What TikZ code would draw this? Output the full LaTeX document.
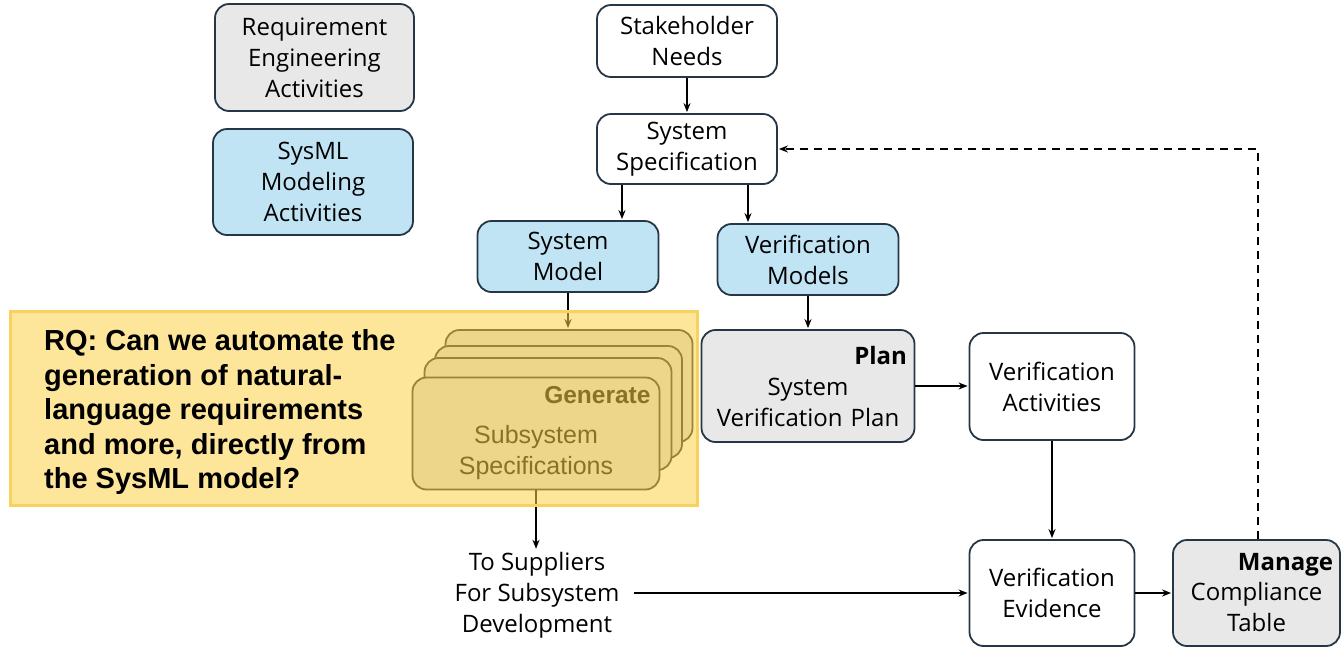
\documentclass[tikz,border=0pt]{standalone}
\usepackage{fontspec}
\setmainfont{Open Sans}
\newfontfamily\arialfont{Liberation Sans}
\usepackage{tikz}
\usetikzlibrary{positioning, calc}
\usetikzlibrary{arrows.meta}
\definecolor{boxline}{HTML}{253746}
\definecolor{grayfill}{HTML}{E8E8E8}
\definecolor{bluefill}{HTML}{C1E4F5}
\definecolor{stackgray}{HTML}{DCDCDC}
\definecolor{rqyellow}{HTML}{FBD147}
\definecolor{rqborder}{HTML}{F9D15E}

\begin{document}
\begin{tikzpicture}[x=1pt,y=-1pt,shorten >=1pt,>={Stealth[length=9pt,width=7pt]}]
	\useasboundingbox (0,0) rectangle (1343,649);
	\def \toprow{41}
	\def \specrow{149}
	\def \planrow{386}
	\def \evidrow{593}
	\tikzstyle{w-node}=[rectangle,rounded corners=14pt,draw=boxline,line width=1.8pt,fill=white,align=center,inner sep=0pt,font=\fontsize{24}{31}\selectfont]
	\tikzstyle{g-node}=[w-node,fill=grayfill]
	\tikzstyle{b-node}=[w-node,fill=bluefill]
	\tikzstyle{s-node}=[w-node,fill=stackgray,draw=black!85,minimum width=247pt,minimum height=112pt,text width=229pt,font=\arialfont\fontsize{25}{31}\selectfont]
	\tikzstyle{flow}=[->,draw=black,line width=2pt]
	
	% legend
	\node[g-node, minimum width=199pt, minimum height=107pt] 	(req) 	at (314.5,57.5)	{Requirement\\Engineering\\Activities};
	\node[b-node, minimum width=200pt, minimum height=106pt] 	(sysml) at (313,182)	{SysML\\Modeling\\Activities};
	
	% specification chain
	\node[w-node, minimum width=180pt, minimum height=72pt] 	(needs)		at (687,\toprow)	{Stakeholder\\Needs};
	\node[w-node, minimum width=180pt, minimum height=70pt] 	(spec)		at (687,\specrow)	{System\\Specification};
	\node[b-node, minimum width=181pt, minimum height=71pt] 	(sysmodel)	at (568,256.5)	{System\\Model};
	\node[b-node, minimum width=181pt, minimum height=71pt] 	(vermodels)	at (808,259.5)	{Verification\\Models};
	
	% verification chain
	\node[g-node, minimum width=213pt, minimum height=112pt, text width=198pt] 	(plan)	at (808,\planrow)	{\hfill\textbf{Plan}\hspace*{9pt}\\System\\Verification Plan};
	\node[w-node, minimum width=165pt, minimum height=107pt] 	(veract)	at (1052,386.5)	{Verification\\Activities};
	\node[w-node, minimum width=165pt, minimum height=106pt] 	(evidence)	at (1052,\evidrow)	{Verification\\Evidence};
	\node[g-node, minimum width=167pt, minimum height=106pt, text width=153pt] 	(manage)	at (1256.5,\evidrow)	{\hfill\textbf{Manage}\\[-1pt]Compliance\\Table\\[2pt]};
	\node[align=center, inner xsep=14pt, inner ysep=2pt, font=\fontsize{24}{31}\selectfont] 	(suppliers)	at (537,595)	{To Suppliers\\For Subsystem\\Development};
	
	% subsystem specifications
	\foreach \dx/\dy [count=\i] in {33/-47.5, 22.5/-31.5, 12/-19.5}
		\node[s-node] (stack\i) at (536+\dx,433.5+\dy) {};
	\node[s-node] 	(front)	at (536,433.5)	{\hfill{\bfseries\fontsize{24.5}{31}\selectfont Generate}\\[9pt]Subsystem\\Specifications};
	
	\draw[flow] (needs) -- (spec);
	\draw[flow] ([xshift=-65pt]spec.south) -- ([xshift=-65pt]spec.south |- sysmodel.north);
	\draw[flow] ([xshift=61pt]spec.south) -- ([xshift=61pt]spec.south |- vermodels.north);
	\draw[flow] (sysmodel.south) -- (sysmodel.south |- stack1.north);
	\draw[flow] (vermodels) -- (plan);
	\draw[flow] (plan.east) -- (plan.east -| veract.west);
	\draw[flow] (veract) -- (evidence);
	\draw[flow] (front.south) -- (front.south |- suppliers.north);
	\draw[flow] (suppliers.east |- evidence.west) -- (evidence.west);
	\draw[flow] (evidence) -- (manage);
	\draw[flow, dash pattern=on 8pt off 6pt] ([xshift=1.5pt]manage.north) |- (spec.east);
	
	% research question
	\fill[rqyellow, opacity=0.55] (10,311) rectangle (697,505);
	\draw[rqborder, line width=3pt] (10,311) rectangle (697,505);
	\node[anchor=west, align=left, inner sep=0pt, font=\arialfont\bfseries\fontsize{29}{34.5}\selectfont] 	(rq)	at (44,412)	{RQ: Can we automate the\\generation of natural-\\language requirements\\and more, directly from\\the SysML model?};
\end{tikzpicture}
\end{document}
